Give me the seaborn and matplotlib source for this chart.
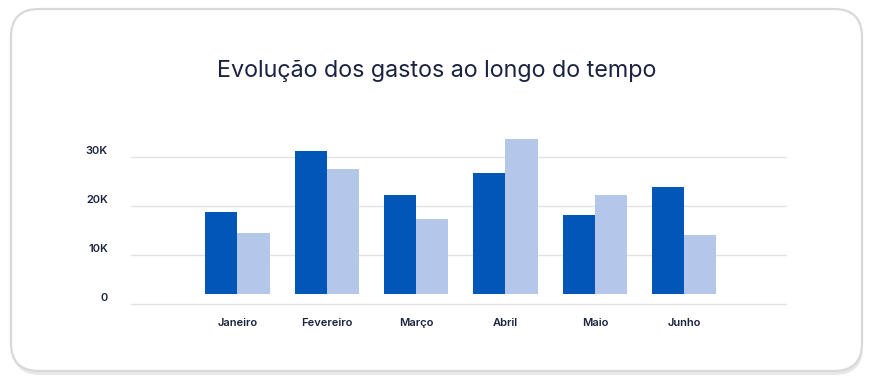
import pandas as pd
import seaborn as sns
from matplotlib import pyplot as plt
from matplotlib.patches import FancyBboxPatch
from matplotlib.transforms import blended_transform_factory

meses = ["Janeiro", "Fevereiro", "Março", "Abril", "Maio", "Junho"]
gastos_a = [18700, 31300, 22200, 26800, 18200, 23900]
gastos_b = [14500, 27600, 17300, 33700, 22200, 14100]
y_ticks = [0, 10000, 20000, 30000]
y_labels = ["0", "10K", "20K", "30K"]

escuro = "#0156b8"
claro = "#b4c7ea"
texto = "#1b2340"

df = pd.DataFrame({
    "mes": meses * 2,
    "valor": gastos_a + gastos_b,
    "serie": ["a"] * len(meses) + ["b"] * len(meses),
})

sns.set_style("white")
plt.rcParams["font.family"] = ["Inter", "DejaVu Sans"]

fig = plt.figure(figsize=(8.73, 3.85), dpi=100)

# card with soft shadow
shadow = FancyBboxPatch((12 / 873, 1 - 375 / 385), 851 / 873, 365 / 385,
                        boxstyle="round,pad=0,rounding_size=0.032",
                        transform=fig.transFigure, facecolor="#e8e8e8",
                        edgecolor="none", mutation_aspect=873 / 385, zorder=-2)
card = FancyBboxPatch((11 / 873, 1 - 371 / 385), 851 / 873, 362 / 385,
                      boxstyle="round,pad=0,rounding_size=0.032",
                      transform=fig.transFigure, facecolor="white",
                      edgecolor="#d9d9d9", linewidth=1.6,
                      mutation_aspect=873 / 385, zorder=-1)
fig.patches.extend([shadow, card])

ax = fig.add_axes([131 / 873, 1 - 305.5 / 385, 656 / 873, 168 / 385])
ax.patch.set_alpha(0)

sns.barplot(data=df, x="mes", y="valor", hue="serie",
            palette=[escuro, claro], width=0.72, saturation=1,
            legend=False, ax=ax)

# bars float a little above the baseline, as in the reference
base = 2000
for p in ax.patches:
    h = p.get_height()
    p.set_y(base)
    p.set_height(h - base)
    p.set_linewidth(0)

ax.set_xlim(-1.19, 6.15)
ax.set_ylim(-300, 34000)
ax.set_yticks(y_ticks)
ax.yaxis.grid(True, color="#e2e2e2", linewidth=1)
ax.set_axisbelow(True)
ax.tick_params(axis="y", length=0, labelleft=False)
ax.tick_params(axis="x", length=0, pad=9)
for lab in ax.get_xticklabels():
    lab.set_fontsize(8)
    lab.set_fontweight("semibold")
    lab.set_color(texto)
ax.set_xlabel("")
ax.set_ylabel("")
sns.despine(ax=ax, left=True, bottom=True)

tr = blended_transform_factory(fig.transFigure, ax.transData)
for v, s in zip(y_ticks, y_labels):
    ax.text(108 / 873, v + 1300, s, transform=tr, ha="right", va="center",
            fontsize=8, fontweight="semibold", color=texto)

fig.text(437 / 873, 1 - 71 / 385, "Evolução dos gastos ao longo do tempo",
         ha="center", va="center", fontsize=16.8, color=texto)

fig.savefig("out.png", dpi=100)
